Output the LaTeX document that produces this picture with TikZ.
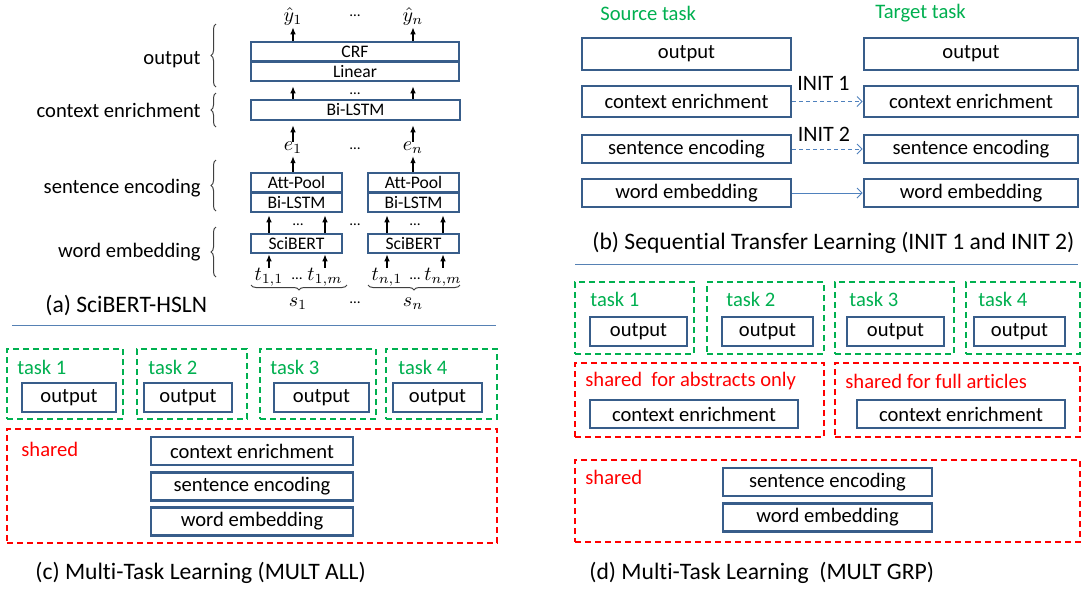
\documentclass[tikz,border=0pt]{standalone}
\usepackage{fontspec}
\setmainfont{Carlito}[Ligatures=NoCommon]
\usetikzlibrary{arrows.meta,decorations.pathreplacing,calc}
\definecolor{boxblue}{RGB}{56,93,138}
\definecolor{linkblue}{RGB}{79,129,189}
\definecolor{taskgreen}{RGB}{0,176,80}
\definecolor{sharedred}{RGB}{255,0,0}
\tikzset{
	layer/.style={draw=boxblue, line width=1.3pt, inner sep=0pt, font=\fontsize{10.3}{12}\selectfont},
	small layer/.style={layer, font=\fontsize{8.8}{10}\selectfont, minimum height=9.75pt},
	tasksq/.style={draw=taskgreen, line width=1pt, dash pattern=on 3pt off 2pt, inner sep=0pt},
	sharedsq/.style={draw=sharedred, line width=1pt, dash pattern=on 3pt off 2pt, inner sep=0pt},
	lbl/.style={inner sep=0pt, font=\fontsize{10.3}{12}\selectfont},
	captext/.style={inner sep=0pt, anchor=west, font=\fontsize{11.8}{14}\selectfont},
	ellip/.style={inner sep=0pt, font=\fontsize{7.5}{9}\selectfont},
	curly/.style={decorate, decoration={brace, amplitude=2.5pt}, line width=0.5pt, black!75},
	arr/.style={-{Latex[length=3.5pt,width=2.8pt]}, line width=0.6pt},
	xfer/.style={-{Straight Barb[length=2.5pt,width=5pt]}, draw=linkblue, line width=0.5pt},
	sep/.style={draw=linkblue!85!gray, line width=0.5pt}
}
\begin{document}
\begin{tikzpicture}[x=0.5pt, y=-0.5pt]
			\fill[white] (0,0) rectangle (1081,590);
			\useasboundingbox (0,0) rectangle (1081,590);
			
			\node[lbl, anchor=east] (lout) at (201,60) {output};
			\node[lbl, anchor=east] (lctx) at (201,110) {context enrichment};
			\node[lbl, anchor=east] (lsen) at (201,188) {sentence encoding};
			\node[lbl, anchor=east] (lwrd) at (201,252) {word embedding};
			\draw[curly] (216,87) -- (216,24);
			\draw[curly] (216,127) -- (216,93);
			\draw[curly] (216,211) -- (216,160);
			\draw[curly] (216,277) -- (216,227);
			
			\node[small layer, minimum width=104pt] (crf) at (355,51.75) {CRF};
			\node[small layer, minimum width=104pt] (lin) at (355,71.25) {Linear};
			\node[small layer, minimum width=104.5pt, minimum height=10pt] (ctxa) at (355.5,110) {Bi-LSTM};
			\foreach \n/\x in {1/296.5,n/413.5} {
				\node[small layer, minimum width=45.5pt] (att\n) at (\x,182.75) {Att-Pool};
				\node[small layer, minimum width=45.5pt] (bil\n) at (\x,202.25) {Bi-LSTM};
				\node[small layer, minimum width=45.5pt, minimum height=9.5pt] (sci\n) at (\x,243.5) {SciBERT};
			}
			
			\node[lbl] (y1) at (293,16) {$\hat{y}_1$};
			\node[lbl] (yn) at (413,16) {$\hat{y}_n$};
			\node[lbl] (e1) at (293,148) {$e_1$};
			\node[lbl] (en) at (413,148) {$e_n$};
			\node[lbl] (t11) at (269,277) {$t_{1,1}$};
			\node[lbl] (t1m) at (325,277) {$t_{1,m}$};
			\node[lbl] (tn1) at (387,277) {$t_{n,1}$};
			\node[lbl] (tnm) at (443,277) {$t_{n,m}$};
			\node[lbl] (s1) at (298,304) {$s_1$};
			\node[lbl] (sn) at (413,304) {$s_n$};
			\foreach \p [count=\i] in {{355,16},{355,94},{355,149},{298,225},{415,225},{355,225},{297,279},{415,279},{355,303}} {\node[ellip] (dot\i) at (\p) {…};}
			
			\foreach \v in {y1,yn} {\draw[arr, shorten >=1pt] (crf.north -| \v) -- (\v.south);}
			\foreach \v in {e1,en} {\draw[arr, shorten >=2pt] (ctxa.north -| \v) -- (lin.south -| \v);}
			\foreach \v in {e1,en} {\draw[arr, shorten >=2pt] (\v.north) -- (ctxa.south -| \v);}
			\foreach \v/\w in {1/e1,n/en} {\draw[arr, shorten >=1pt] (att\v.north -| \w) -- (\w.south);}
			\foreach \v/\w in {1/t11,1/t1m,n/tn1,n/tnm} {
				\draw[arr, shorten >=1pt] (sci\v.north -| \w) -- (bil\v.south -| \w);
				\draw[arr] (\w.north) -- (sci\v.south -| \w);
			}
			\draw[curly] (347,285) -- (251,285);
			\draw[curly] (460,285) -- (368,285);
			\node[captext] (capa) at (45,305) {(a) SciBERT-HSLN};
			
			\draw[sep] (12,325) -- (496,325);
			\draw[sep] (575,264) -- (1078,264);
			
			\node[lbl, text=taskgreen, anchor=west] (srct) at (600,13) {Source task};
			\node[lbl, text=taskgreen, anchor=west] (tgtt) at (875,13) {Target task};
			\foreach \r/\t/\y/\h in {out/output/54/16pt,ctx/context enrichment/101.5/15.5pt,sen/sentence encoding/149/14pt,wrd/word embedding/193/14pt} {
				\node[layer, minimum width=104.5pt, minimum height=\h] (s\r) at (686.5,\y) {\t};
				\node[layer, minimum width=107pt, minimum height=\h] (t\r) at (971,\y) {\t};
			}
			\draw[xfer, dash pattern=on 2pt off 1.5pt] (sctx) -- (tctx);
			\draw[xfer, dash pattern=on 2pt off 1.5pt] (ssen) -- (tsen);
			\draw[xfer] (swrd) -- (twrd);
			\node[lbl, font=\fontsize{11}{13}\selectfont] (init1) at (823.5,83) {INIT 1};
			\node[lbl, font=\fontsize{11}{13}\selectfont] (init2) at (824,134) {INIT 2};
			\node[captext] (capb) at (592,243) {(b) Sequential Transfer Learning (INIT 1 and INIT 2)};
			
			\foreach \i/\x/\w/\lx/\ox/\ow in {1/65/58pt/17/69/47pt,2/192/55pt/148/188/44pt,3/318/58pt/270/321.5/47.5pt,4/441.5/55.5pt/398/437.5/44.5pt} {
				\node[tasksq, minimum width=\w, minimum height=35pt] (ct\i) at (\x,384) {};
				\node[lbl, text=taskgreen, anchor=west] (ctl\i) at (\lx,367) {task \i};
				\node[layer, minimum width=\ow, minimum height=14.5pt] (co\i) at (\ox,397.5) {output};
			}
			\node[sharedsq, minimum width=245pt, minimum height=57pt] (csh) at (252,486) {};
			\node[lbl, text=sharedred, anchor=west] (cshl) at (21,449) {shared};
			\node[layer, minimum width=101pt, minimum height=14pt] (cctx) at (252,451) {context enrichment};
			\node[layer, minimum width=101pt, minimum height=14pt] (csen) at (252,486.5) {sentence encoding};
			\node[layer, minimum width=101pt, minimum height=14pt] (cwrd) at (252,521.5) {word embedding};
			\node[captext] (capc) at (35,573) {(c) Multi-Task Learning (MULT ALL)};
			
			\foreach \i/\x/\w/\lx/\ox/\ow in {1/634.5/59.5pt/590/638.5/48.5pt,2/765.5/58.5pt/726/767.5/45.5pt,3/894.5/59.5pt/849/895.5/48.5pt,4/1023/57pt/978/1019.5/45.5pt} {
				\node[tasksq, minimum width=\w, minimum height=36pt] (dt\i) at (\x,318) {};
				\node[lbl, text=taskgreen, anchor=west] (dtl\i) at (\lx,299) {task \i};
				\node[layer, minimum width=\ow, minimum height=14.5pt] (do\i) at (\ox,331.5) {output};
			}
			\node[sharedsq, minimum width=124.5pt, minimum height=37pt] (dabs) at (699.5,400) {};
			\node[lbl, text=sharedred, anchor=west] (dabsl) at (585,381) {shared\ \ for abstracts only};
			\node[layer, minimum width=104pt, minimum height=14pt] (dctxa) at (694,414) {context enrichment};
			\node[sharedsq, minimum width=122.5pt, minimum height=37pt] (dful) at (957.5,400) {};
			\node[lbl, text=sharedred, anchor=west] (dfull) at (845,381) {shared for full articles};
			\node[layer, minimum width=104pt, minimum height=14pt] (dctxf) at (961,414) {context enrichment};
			\node[sharedsq, minimum width=252.5pt, minimum height=41pt] (dsh) at (827.5,501) {};
			\node[lbl, text=sharedred, anchor=west] (dshl) at (585,477) {shared};
			\node[layer, minimum width=104.5pt, minimum height=14pt] (dsen) at (827.5,482) {sentence encoding};
			\node[layer, minimum width=104.5pt, minimum height=14pt] (dwrd) at (827.5,517.5) {word embedding};
			\node[captext] (capd) at (589,573) {(d) Multi-Task Learning\ \ (MULT GRP)};
		\end{tikzpicture}
\end{document}
